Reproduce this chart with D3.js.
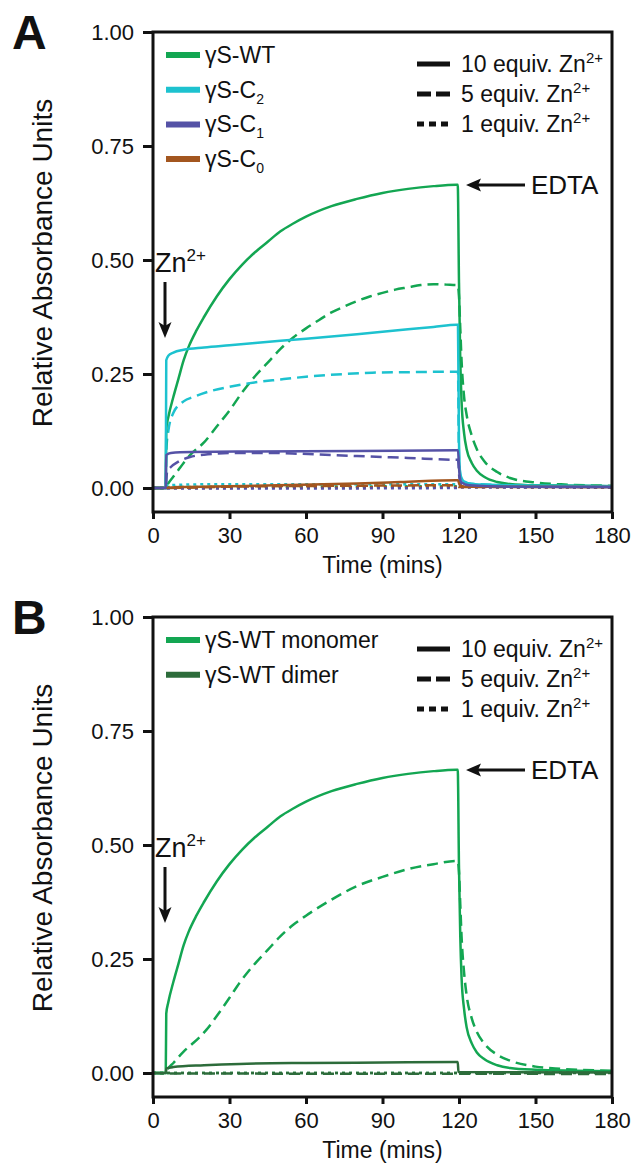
<!DOCTYPE html>
<html>
<head>
<meta charset="utf-8">
<script src="https://cdn.jsdelivr.net/npm/d3@7"></script>
<style>
body { margin: 0; background: #fff; }
svg text { font-family: "Liberation Sans", Arial, Helvetica, sans-serif; fill: #111; }
</style>
</head>
<body>
<svg id="fig" width="636" height="1163"></svg>
<script>
// ---- data (time in mins, relative absorbance) ----
var xTicks = [0, 30, 60, 90, 120, 150, 180];
var yTicks = [0, 0.25, 0.5, 0.75, 1];

// Panel A: gammaS-WT
var wtA10 = [[0,0],[5,0],[5.2,0.13],[6,0.155],[8,0.2],[10,0.24],[12,0.28],[14,0.31],[17,0.345],[20,0.375],[25,0.42],[30,0.458],[35,0.49],[40,0.517],[45,0.54],[50,0.563],[55,0.58],[60,0.595],[70,0.618],[80,0.634],[90,0.647],[100,0.656],[110,0.662],[119,0.665],[119.5,0.665],[120,0.45],[120.5,0.28],[121,0.19],[122,0.12],[123,0.085],[125,0.055],[127,0.038],[130,0.024],[135,0.013],[140,0.009],[150,0.006],[165,0.005],[180,0.004]];
var wtA5 = [[0,0],[5,0],[6,0.01],[8,0.025],[10,0.04],[12,0.055],[15,0.075],[20,0.1],[25,0.135],[30,0.17],[35,0.21],[40,0.245],[45,0.275],[50,0.305],[55,0.33],[60,0.35],[65,0.368],[70,0.385],[75,0.398],[80,0.41],[85,0.42],[90,0.428],[95,0.435],[100,0.44],[105,0.445],[110,0.447],[115,0.446],[119,0.445],[119.5,0.445],[120,0.42],[120.5,0.35],[121,0.28],[122,0.2],[123,0.16],[125,0.115],[127,0.085],[130,0.058],[135,0.035],[140,0.022],[150,0.012],[160,0.008],[180,0.005]];
var wtA1 = [[0,0],[5,0],[5.5,0.002],[60,0.003],[119,0.004],[120,0.003],[180,0.002]];
// Panel A: gammaS-C2
var c2A10 = [[0,0],[5,0],[5.2,0.28],[6,0.29],[8,0.297],[12,0.303],[20,0.308],[30,0.313],[40,0.318],[55,0.325],[70,0.332],[85,0.34],[100,0.348],[110,0.353],[119,0.358],[119.6,0.358],[120,0.1],[120.5,0.03],[122,0.014],[125,0.009],[140,0.006],[180,0.004]];
var c2A5 = [[0,0],[5,0],[5.3,0.09],[6,0.125],[8,0.165],[12,0.19],[16,0.2],[21,0.21],[30,0.222],[38,0.23],[50,0.238],[60,0.244],[75,0.25],[86,0.253],[100,0.254],[119,0.255],[119.6,0.255],[120,0.06],[121,0.02],[124,0.01],[140,0.006],[180,0.004]];
var c2A1 = [[0,0],[5,0],[5.5,0.006],[20,0.008],[60,0.008],[100,0.008],[119,0.008],[120,0.004],[180,0.003]];
// Panel A: gammaS-C1
var c1A10 = [[0,0],[5,0],[5.2,0.072],[7,0.077],[15,0.079],[40,0.08],[80,0.081],[119,0.083],[119.6,0.083],[120.2,0.03],[121,0.012],[124,0.006],[140,0.003],[180,0.002]];
var c1A5 = [[0,0],[5,0],[5.5,0.035],[7,0.046],[10,0.058],[14.5,0.068],[20,0.073],[34,0.077],[45,0.077],[58,0.075],[80,0.07],[100,0.066],[119,0.062],[119.6,0.062],[120.2,0.02],[121,0.008],[125,0.004],[180,0.002]];
var c1A1 = [[0,0],[5,0],[5.5,-0.001],[60,-0.001],[119,0],[120,0.001],[180,0.001]];
// Panel A: gammaS-C0
var c0A10 = [[0,0],[5,0],[10,0.002],[30,0.004],[58,0.007],[80,0.01],[97,0.013],[119,0.017],[119.6,0.017],[120.3,0.006],[122,0.003],[180,0.002]];
var c0A5 = [[0,0],[5,0],[30,0.003],[80,0.005],[119,0.006],[120,0.002],[180,0.002]];
var c0A1 = [[0,0],[5,0],[119,0.002],[180,0.001]];

// Panel B: monomer / dimer
var monoB10 = [[0,0],[5,0],[5.2,0.13],[6,0.155],[8,0.2],[10,0.24],[12,0.28],[14,0.31],[17,0.345],[20,0.375],[25,0.42],[30,0.458],[35,0.49],[40,0.517],[45,0.54],[50,0.563],[55,0.58],[60,0.595],[70,0.618],[80,0.634],[90,0.647],[100,0.656],[110,0.662],[119,0.665],[119.5,0.665],[120,0.45],[120.5,0.3],[121,0.21],[122,0.14],[123,0.1],[125,0.065],[127,0.045],[130,0.03],[135,0.017],[140,0.011],[150,0.007],[165,0.005],[180,0.004]];
var monoB5 = [[0,0],[5,0],[6,0.01],[8,0.022],[10,0.035],[12,0.047],[15,0.062],[18,0.077],[21,0.095],[25,0.125],[30,0.165],[34,0.198],[40,0.24],[45,0.27],[50,0.3],[55,0.325],[60,0.345],[70,0.38],[80,0.41],[90,0.43],[100,0.447],[110,0.458],[119,0.465],[119.5,0.465],[120,0.44],[120.5,0.37],[121,0.3],[122,0.22],[123,0.17],[125,0.12],[127,0.09],[130,0.064],[135,0.04],[140,0.027],[150,0.014],[160,0.009],[180,0.005]];
var monoB1 = [[0,0],[5,0],[60,0],[119,0],[180,0.002]];
var dimB10 = [[0,0],[5,0],[5.3,0.01],[8,0.013],[20,0.017],[34,0.02],[60,0.022],[90,0.023],[119,0.024],[119.5,0.024],[119.8,0.002],[180,0.001]];
var dimB5 = [[0,0],[5,-0.001],[180,-0.002]];
var dimB1 = [[0,0],[180,0]];

// ---- styles ----
var colors = {
    wt: '#13a652',
    c2: '#1dc2cf',
    c1: '#5552a6',
    c0: '#a3561f',
    dimer: '#2d6c3b'
};
var dashes = { solid: null, dashed: '11,6', dotted: '3,4' };

var panels = [
    {
        letter: 'A',
        offset: 0,
        series: [
            { data: wtA1, color: colors.wt, dash: 'dotted' },
            { data: c2A1, color: colors.c2, dash: 'dotted' },
            { data: c0A1, color: colors.c0, dash: 'dotted' },
            { data: c1A1, color: colors.c1, dash: 'dotted' },
            { data: wtA5, color: colors.wt, dash: 'dashed' },
            { data: c2A5, color: colors.c2, dash: 'dashed' },
            { data: c0A5, color: colors.c0, dash: 'dashed' },
            { data: c1A5, color: colors.c1, dash: 'dashed' },
            { data: wtA10, color: colors.wt, dash: 'solid' },
            { data: c2A10, color: colors.c2, dash: 'solid' },
            { data: c0A10, color: colors.c0, dash: 'solid' },
            { data: c1A10, color: colors.c1, dash: 'solid' }
        ],
        legend: [
            { label: 'γS-WT', sub: null, color: colors.wt },
            { label: 'γS-C', sub: '2', color: colors.c2 },
            { label: 'γS-C', sub: '1', color: colors.c1 },
            { label: 'γS-C', sub: '0', color: colors.c0 }
        ]
    },
    {
        letter: 'B',
        offset: 585,
        series: [
            { data: monoB1, color: colors.wt, dash: 'dotted' },
            { data: dimB1, color: colors.dimer, dash: 'dotted' },
            { data: monoB5, color: colors.wt, dash: 'dashed' },
            { data: dimB5, color: colors.dimer, dash: 'dashed' },
            { data: monoB10, color: colors.wt, dash: 'solid' },
            { data: dimB10, color: colors.dimer, dash: 'solid' }
        ],
        legend: [
            { label: 'γS-WT monomer', sub: null, color: colors.wt },
            { label: 'γS-WT dimer', sub: null, color: colors.dimer }
        ]
    }
];

var equivLegend = [
    { label: '10 equiv. Zn', dash: 'solid', swatch: null },
    { label: '5 equiv. Zn', dash: 'dashed', swatch: '14,5' },
    { label: '1 equiv. Zn', dash: 'dotted', swatch: '7,5' }
];

// ---- layout ----
var frame = { left: 153, right: 612, top: 32, bottom: 512 };

var xScale = d3.scaleLinear().domain([0, 180]).range([frame.left, frame.right]);
var yScale = d3.scaleLinear().domain([0, 1]).range([488, frame.top]);

var line = d3.line()
    .x(function (d) { return xScale(d[0]); })
    .y(function (d) { return yScale(d[1]); })
    .curve(d3.curveMonotoneX);

var svg = d3.select('#fig');

svg.append('defs').append('clipPath')
    .attr('id', 'plotClip')
    .append('rect')
    .attr('x', frame.left)
    .attr('y', frame.top)
    .attr('width', frame.right - frame.left)
    .attr('height', frame.bottom - frame.top);

function arrowLeft(g, tipX, tailX, y) {
    g.append('line')
        .attr('x1', tailX).attr('x2', tipX + 10)
        .attr('y1', y).attr('y2', y)
        .attr('stroke', '#111').attr('stroke-width', 3);
    g.append('path')
        .attr('d', 'M' + tipX + ',' + y + 'L' + (tipX + 15) + ',' + (y - 6.5) + 'L' + (tipX + 12) + ',' + y + 'L' + (tipX + 15) + ',' + (y + 6.5) + 'Z')
        .attr('fill', '#111');
}

function arrowDown(g, x, tailY, tipY) {
    g.append('line')
        .attr('x1', x).attr('x2', x)
        .attr('y1', tailY).attr('y2', tipY - 10)
        .attr('stroke', '#111').attr('stroke-width', 3);
    g.append('path')
        .attr('d', 'M' + x + ',' + tipY + 'L' + (x - 6.5) + ',' + (tipY - 16) + 'L' + x + ',' + (tipY - 12) + 'L' + (x + 6.5) + ',' + (tipY - 16) + 'Z')
        .attr('fill', '#111');
}

panels.forEach(function (p) {
    var g = svg.append('g').attr('transform', 'translate(0,' + p.offset + ')');

    // panel letter
    g.append('text')
        .attr('x', 12).attr('y', 49)
        .style('font-size', '48px').style('font-weight', 'bold')
        .text(p.letter);

    // data lines
    var lines = g.append('g').attr('clip-path', 'url(#plotClip)');
    lines.selectAll('path')
        .data(p.series)
        .enter().append('path')
        .attr('d', function (d) { return line(d.data); })
        .attr('fill', 'none')
        .attr('stroke', function (d) { return d.color; })
        .attr('stroke-width', 2.5)
        .attr('stroke-dasharray', function (d) { return dashes[d.dash]; });

    // frame
    g.append('rect')
        .attr('x', frame.left).attr('y', frame.top)
        .attr('width', frame.right - frame.left)
        .attr('height', frame.bottom - frame.top)
        .attr('fill', 'none').attr('stroke', '#111').attr('stroke-width', 3);

    // axes
    var yAxis = d3.axisLeft(yScale).tickValues(yTicks).tickFormat(d3.format('.2f')).tickSize(10).tickPadding(9);
    var yG = g.append('g').attr('transform', 'translate(' + frame.left + ',0)').call(yAxis);
    var xAxis = d3.axisBottom(xScale).tickValues(xTicks).tickSize(7).tickPadding(8);
    var xG = g.append('g').attr('transform', 'translate(0,' + frame.bottom + ')').call(xAxis);
    [yG, xG].forEach(function (a) {
        a.select('.domain').remove();
        a.selectAll('.tick line').attr('stroke', '#111').attr('stroke-width', 3);
        a.selectAll('.tick text')
            .attr('fill', '#111')
            .style('font-size', '22px')
            .style('font-family', '"Liberation Sans", Arial, Helvetica, sans-serif');
    });

    // axis titles
    g.append('text')
        .attr('transform', 'translate(52,' + ((frame.top + 488) / 2 + 3) + ') rotate(-90)')
        .attr('text-anchor', 'middle')
        .style('font-size', '28px')
        .text('Relative Absorbance Units');
    g.append('text')
        .attr('x', (frame.left + frame.right) / 2).attr('y', 573)
        .attr('text-anchor', 'middle')
        .style('font-size', '23px')
        .text('Time (mins)');

    // colour legend
    var leg = g.append('g');
    p.legend.forEach(function (d, i) {
        var y = 55 + i * 34.7;
        leg.append('line')
            .attr('x1', 166).attr('x2', 200).attr('y1', y).attr('y2', y)
            .attr('stroke', d.color).attr('stroke-width', 6);
        var t = leg.append('text').attr('x', 205).attr('y', y + 8).style('font-size', '23px').text(d.label);
        if (d.sub) {
            t.append('tspan').attr('dy', 6).style('font-size', '14px').text(d.sub);
        }
    });

    // equivalents legend
    equivLegend.forEach(function (d, i) {
        var y = 64 + i * 30;
        leg.append('line')
            .attr('x1', 417).attr('x2', 450).attr('y1', y).attr('y2', y)
            .attr('stroke', '#111').attr('stroke-width', 5)
            .attr('stroke-dasharray', d.swatch);
        var t = leg.append('text').attr('x', 461).attr('y', y + 8).style('font-size', '23px').text(d.label);
        t.append('tspan').attr('dy', -9).style('font-size', '15px').text('2+');
    });

    // annotations
    var ann = g.append('g');
    var zn = ann.append('text').attr('x', 155).attr('y', 272).style('font-size', '27px').text('Zn');
    zn.append('tspan').attr('dy', -11).style('font-size', '17px').text('2+');
    arrowDown(ann, 165, 282, 338);

    ann.append('text').attr('x', 531).attr('y', 194).style('font-size', '26px').text('EDTA');
    arrowLeft(ann, 466, 525, 185);
});
</script>
</body>
</html>
